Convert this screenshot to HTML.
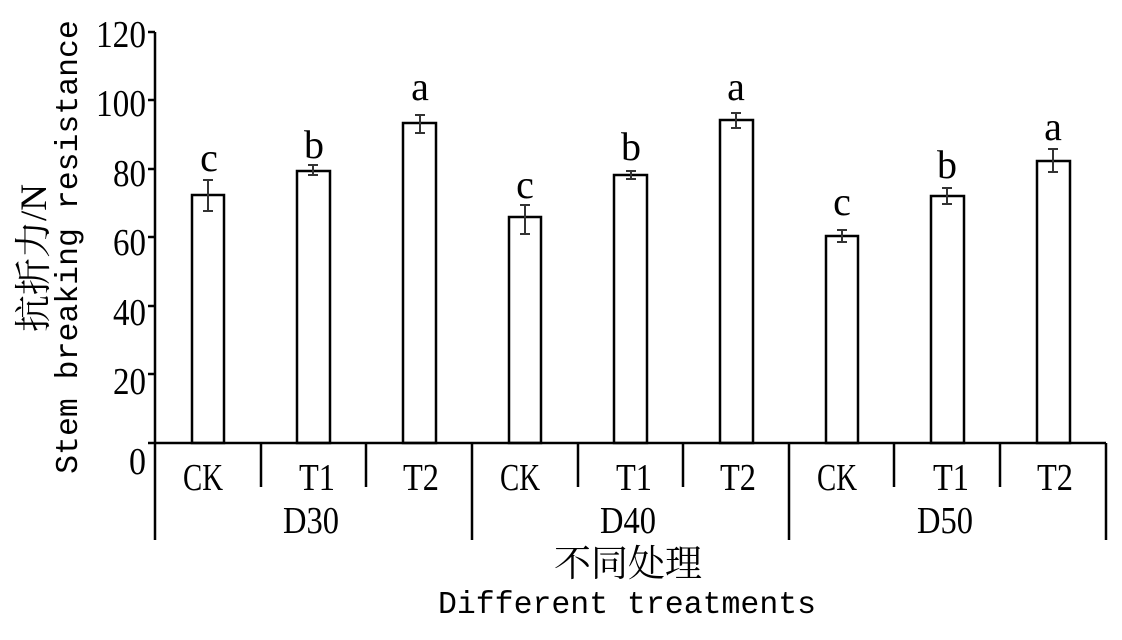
<!DOCTYPE html>
<html><head><meta charset="utf-8"><style>
body{margin:0;background:#fff;}
svg text{font-family:"Liberation Serif","Noto Serif CJK SC",serif;fill:#000;}
.m{font-family:"Liberation Mono","Noto Sans CJK SC",monospace !important;}
</style></head><body>
<svg width="1122" height="635" xmlns="http://www.w3.org/2000/svg">
<g stroke="#000" stroke-width="2.5" fill="none">
<line x1="155" y1="32" x2="155" y2="540"/>
<line x1="155" y1="443" x2="1106" y2="443"/>
<line x1="148" y1="32" x2="155" y2="32"/>
<line x1="148" y1="100" x2="155" y2="100"/>
<line x1="148" y1="169" x2="155" y2="169"/>
<line x1="148" y1="237" x2="155" y2="237"/>
<line x1="148" y1="306" x2="155" y2="306"/>
<line x1="148" y1="374" x2="155" y2="374"/>
<line x1="148" y1="443" x2="155" y2="443"/>
<line x1="261" y1="443" x2="261" y2="487"/>
<line x1="366" y1="443" x2="366" y2="487"/>
<line x1="472" y1="443" x2="472" y2="540"/>
<line x1="578" y1="443" x2="578" y2="487"/>
<line x1="683" y1="443" x2="683" y2="487"/>
<line x1="789" y1="443" x2="789" y2="540"/>
<line x1="894" y1="443" x2="894" y2="487"/>
<line x1="1000" y1="443" x2="1000" y2="487"/>
<line x1="1106" y1="443" x2="1106" y2="540"/>
<rect x="192" y="195" width="32" height="248"/>
<rect x="297" y="171" width="33" height="272"/>
<rect x="403" y="123" width="33" height="320"/>
<rect x="509" y="217" width="32" height="226"/>
<rect x="614" y="175" width="33" height="268"/>
<rect x="720" y="120" width="33" height="323"/>
<rect x="826" y="236" width="32" height="207"/>
<rect x="931" y="196" width="33" height="247"/>
<rect x="1037" y="161" width="33" height="282"/>
</g>
<g stroke="#333" stroke-width="2">
<path d="M208 180V211M203 180h10M203 211h10"/>
<path d="M313 165V175M308 165h10M308 175h10"/>
<path d="M420 115V133M415 115h10M415 133h10"/>
<path d="M525 205V234M520 205h10M520 234h10"/>
<path d="M631 171V179M626 171h10M626 179h10"/>
<path d="M736 113V128M731 113h10M731 128h10"/>
<path d="M842 230V242M837 230h10M837 242h10"/>
<path d="M947 188V204M942 188h10M942 204h10"/>
<path d="M1053 149V172M1048 149h10M1048 172h10"/>
</g>
<g font-size="40" text-anchor="middle">
<text x="209" y="171">c</text><text x="314" y="158">b</text><text x="420" y="100">a</text>
<text x="525" y="198">c</text><text x="631" y="160">b</text><text x="736" y="100">a</text>
<text x="842" y="215">c</text><text x="947" y="178">b</text><text x="1053" y="140">a</text>
</g>
<g font-size="38" text-anchor="end">
<text x="146" y="47" textLength="50" lengthAdjust="spacingAndGlyphs">120</text>
<text x="146" y="116" textLength="50" lengthAdjust="spacingAndGlyphs">100</text>
<text x="146" y="186" textLength="33" lengthAdjust="spacingAndGlyphs">80</text>
<text x="146" y="255" textLength="33" lengthAdjust="spacingAndGlyphs">60</text>
<text x="146" y="325" textLength="33" lengthAdjust="spacingAndGlyphs">40</text>
<text x="146" y="394" textLength="33" lengthAdjust="spacingAndGlyphs">20</text>
<text x="146" y="474" textLength="17" lengthAdjust="spacingAndGlyphs">0</text>
</g>
<g font-size="38" text-anchor="middle">
<text x="203" y="490" textLength="40" lengthAdjust="spacingAndGlyphs">CK</text>
<text x="317" y="490" textLength="36" lengthAdjust="spacingAndGlyphs">T1</text>
<text x="421" y="490" textLength="36" lengthAdjust="spacingAndGlyphs">T2</text>
<text x="520" y="490" textLength="40" lengthAdjust="spacingAndGlyphs">CK</text>
<text x="634" y="490" textLength="36" lengthAdjust="spacingAndGlyphs">T1</text>
<text x="738" y="490" textLength="36" lengthAdjust="spacingAndGlyphs">T2</text>
<text x="837" y="490" textLength="40" lengthAdjust="spacingAndGlyphs">CK</text>
<text x="951" y="490" textLength="36" lengthAdjust="spacingAndGlyphs">T1</text>
<text x="1055" y="490" textLength="36" lengthAdjust="spacingAndGlyphs">T2</text>
<text x="311" y="533" textLength="56" lengthAdjust="spacingAndGlyphs">D30</text>
<text x="628" y="533" textLength="56" lengthAdjust="spacingAndGlyphs">D40</text>
<text x="945" y="533" textLength="56" lengthAdjust="spacingAndGlyphs">D50</text>
<text x="628" y="576" font-size="37">不同处理</text>
<text x="627" y="613" class="m" font-size="31.5">Different treatments</text>
</g>
<text transform="translate(46,258) rotate(-90)" text-anchor="middle" font-size="37">抗折力/N</text>
<text transform="translate(77,247) rotate(-90)" text-anchor="middle" class="m" font-size="31.5">Stem breaking resistance</text>
</svg>
</body></html>
